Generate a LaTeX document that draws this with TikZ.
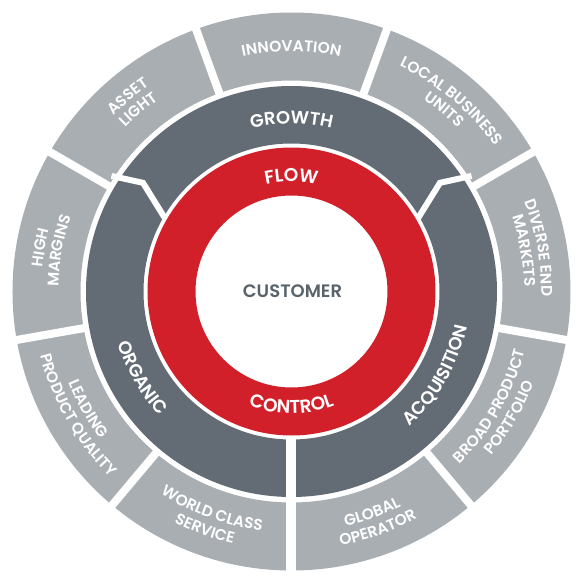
\documentclass[tikz,border=0pt]{standalone}
\usepackage{fontspec}
\setmainfont{Poppins}[BoldFont={Poppins SemiBold}]
\usetikzlibrary{decorations.text}
\definecolor{ringgray}{HTML}{A9AEB3}
\definecolor{ringdark}{HTML}{636C74}
\definecolor{ringred}{HTML}{D2202A}
\definecolor{custtext}{HTML}{59636B}
% upper half: text top points outward (clockwise path)
\newcommand\uppertext[4]{%
  \path[decorate,decoration={text along path,text align=center,text color=white,
    text={|\fontsize{#3}{#3}\selectfont\bfseries|#4}}]
    ({#1+50}:#2pt) arc[start angle={#1+50},end angle={#1-50},radius=#2pt];}
% lower half: text top points inward (counter-clockwise path)
\newcommand\lowertext[4]{%
  \path[decorate,decoration={text along path,text align=center,text color=white,
    text={|\fontsize{#3}{#3}\selectfont\bfseries|#4}}]
    ({#1-50}:#2pt) arc[start angle={#1-50},end angle={#1+50},radius=#2pt];}
\tikzset{
  gap/.style={white,line width=8pt},
  chev/.style={white,line width=6pt,line join=miter},
}
\begin{document}
\begin{tikzpicture}
\useasboundingbox[fill=white] (-291.5pt,-290.5pt) rectangle (284.5pt,291.5pt);
% outer gray ring
\fill[ringgray,even odd rule] (0,0) circle[radius=279pt] (0,0) circle[radius=211pt];
\foreach \a in {30,70,110,150,190,230,310,350}
  \draw[gap] (\a:200pt) -- (\a:290pt);
% dark ring
\fill[ringdark,even odd rule] (0,0) circle[radius=205.5pt] (0,0) circle[radius=148pt];
\draw[white,line width=10pt] (270:140pt) -- (270:290pt);
\draw[chev] (32.7:214pt) -- (36.2:184pt) -- (29.6:144pt);
\draw[chev] (147.3:214pt) -- (143.8:184pt) -- (150.4:144pt);
% red ring
\fill[ringred,even odd rule] (0,0) circle[radius=144pt] (0,0) circle[radius=96pt];
\node[font=\fontsize{18}{18}\selectfont\bfseries,text=custtext] (cust) at (1pt,0pt) {CUSTOMER};
% red ring labels
\uppertext{90}{110}{18.5}{FLOW}
\lowertext{270}{122}{18.5}{CONTROL}
% dark ring labels
\uppertext{90}{168}{18}{GROWTH}
\lowertext{210}{181}{18}{ORGANIC}
\lowertext{330}{179}{18}{ACQUISITION}
% gray ring labels, upper half
\uppertext{90}{240}{15.5}{INNOVATION}
\uppertext{50}{250}{15.5}{LOCAL BUSINESS}
\uppertext{50}{233}{15.5}{UNITS}
\uppertext{10}{250}{15.5}{DIVERSE END}
\uppertext{10}{233}{15.5}{MARKETS}
\uppertext{130}{250}{15.5}{ASSET}
\uppertext{130}{233}{15.5}{LIGHT}
\uppertext{170}{250}{15.5}{HIGH}
\uppertext{170}{233}{15.5}{MARGINS}
% gray ring labels, lower half
\lowertext{210}{241}{15.5}{LEADING}
\lowertext{210}{259}{15.5}{PRODUCT QUALITY}
\lowertext{250}{241}{15.5}{WORLD CLASS}
\lowertext{250}{259}{15.5}{SERVICE}
\lowertext{290}{241}{15.5}{GLOBAL}
\lowertext{290}{259}{15.5}{OPERATOR}
\lowertext{330}{241}{15.5}{BROAD PRODUCT}
\lowertext{330}{259}{15.5}{PORTFOLIO}
\end{tikzpicture}
\end{document}
